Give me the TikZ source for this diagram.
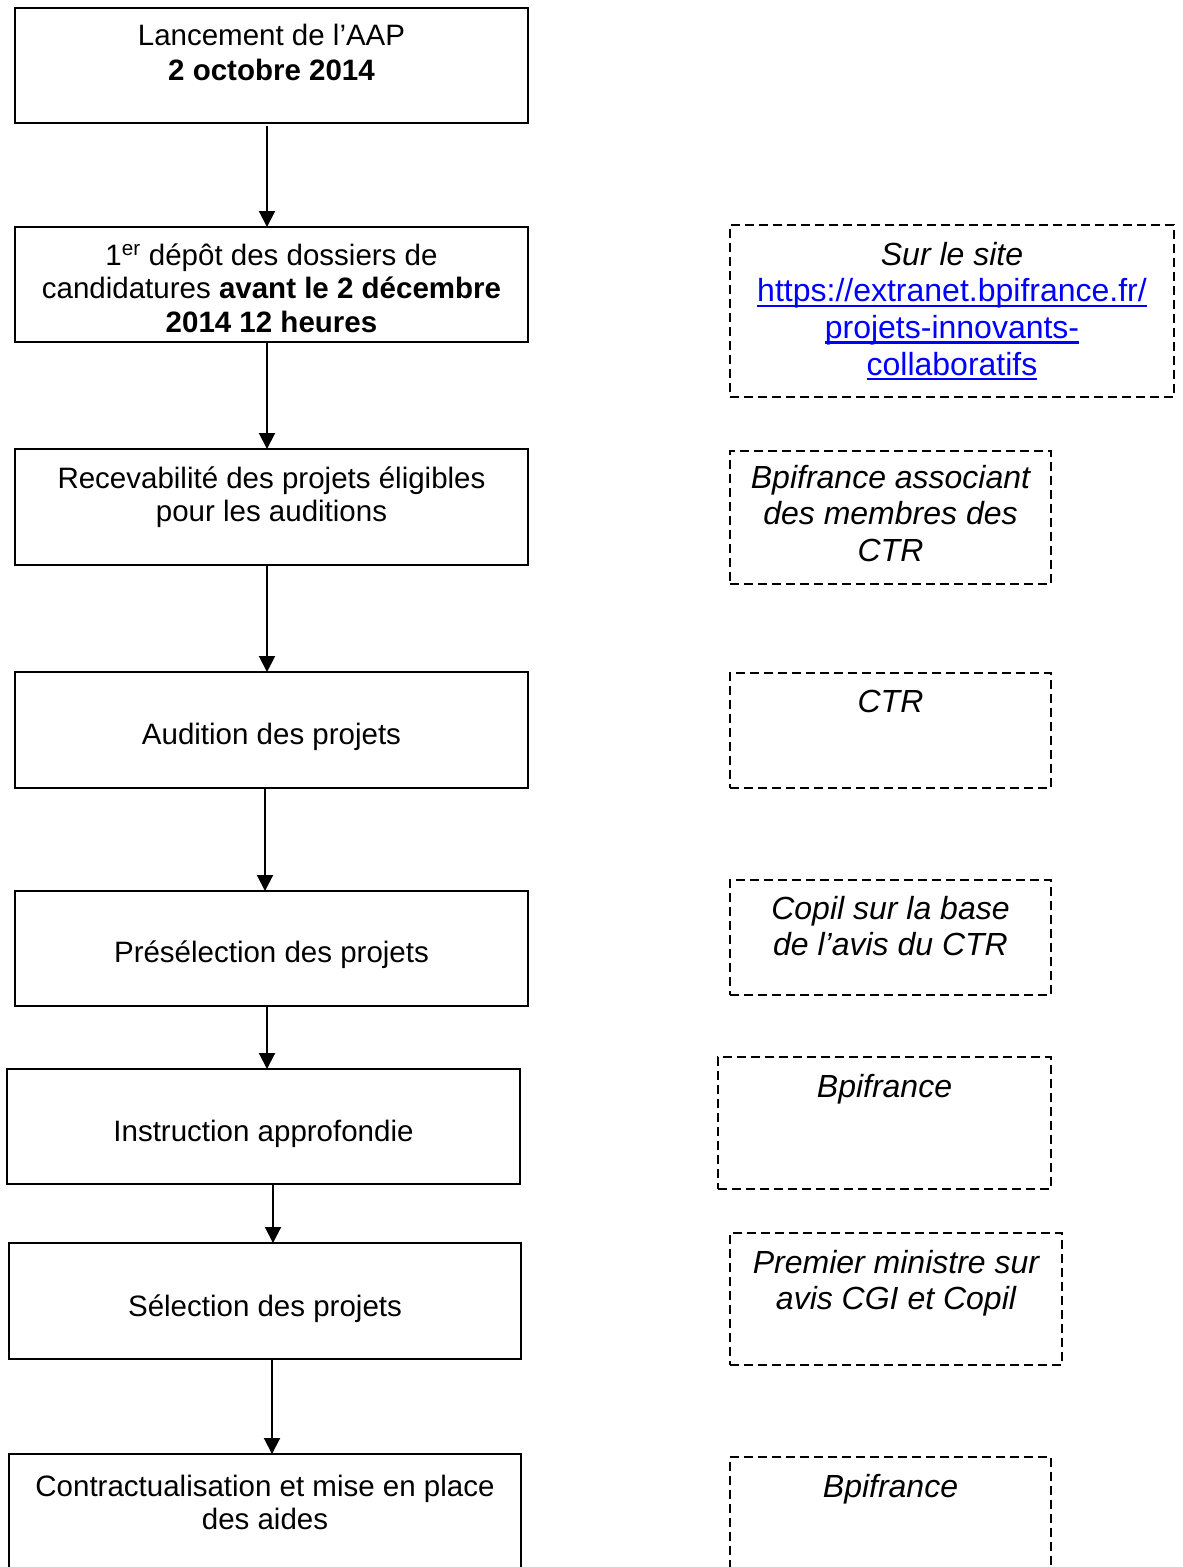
\documentclass[tikz,border=0pt]{standalone}
\usepackage{fontspec}
\setmainfont{Liberation Sans}
\usetikzlibrary{arrows.meta}
\newcommand\lnkline[1]{\setbox0\hbox{#1}\rlap{\rule[-5pt]{\wd0}{2.2pt}}\box0}
\newcommand\lines[1]{\renewcommand\arraystretch{1}\begin{tabular}[t]{@{}c@{}}#1\end{tabular}}
\begin{document}
\begin{tikzpicture}[x=1pt,y=-1pt,
  solidbox/.style={draw, line width=2pt, inner sep=0pt, outer sep=0pt},
  dashbox/.style={draw, line width=2pt, dash pattern=on 9pt off 5pt, inner sep=0pt, outer sep=0pt},
  lefttext/.style={anchor=base, inner sep=0pt, font=\fontsize{29.5}{33.9}\selectfont},
  righttext/.style={anchor=base, inner sep=0pt, font=\fontsize{32}{36.8}\selectfont\itshape},
  arrowline/.style={line width=2pt, -{Triangle[width=16pt,length=16pt]}}]
\useasboundingbox (0,0) rectangle (1183,1567);
\clip (0,0) rectangle (1183,1567);
\fill[white] (0,0) rectangle (1183,1567);

% left column boxes
\node[solidbox, minimum width=513, minimum height=115] (b1) at (271.5,65.5) {};
\node[solidbox, minimum width=513, minimum height=115] (b2) at (271.5,284.5) {};
\node[solidbox, minimum width=513, minimum height=116] (b3) at (271.5,507) {};
\node[solidbox, minimum width=513, minimum height=116] (b4) at (271.5,730) {};
\node[solidbox, minimum width=513, minimum height=115] (b5) at (271.5,948.5) {};
\node[solidbox, minimum width=513, minimum height=115] (b6) at (263.5,1126.5) {};
\node[solidbox, minimum width=512, minimum height=116] (b7) at (265,1301) {};
\node[solidbox, minimum width=512, minimum height=126] (b8) at (265,1517) {};

% left texts
\node[lefttext] (t1) at (271.5,45) {\lines{Lancement de l’AAP\\[1.2pt] \textbf{2 octobre 2014}}};
\node[lefttext] (t2) at (271.5,265) {\lines{1\textsuperscript{er} dépôt des dossiers de\\ candidatures \textbf{avant le 2 décembre}\\ \textbf{2014 12 heures}}};
\node[lefttext] (t3) at (271.5,488) {\lines{Recevabilité des projets éligibles\\ pour les auditions}};
\node[lefttext] (t4) at (271.5,744) {Audition des projets};
\node[lefttext] (t5) at (271.5,962) {Présélection des projets};
\node[lefttext] (t6) at (263.5,1141) {Instruction approfondie};
\node[lefttext] (t7) at (265,1316) {Sélection des projets};
\node[lefttext] (t8) at (265,1496) {\lines{Contractualisation et mise en place\\ des aides}};

% right column boxes
\node[dashbox, minimum width=444, minimum height=172] (rA) at (952,311) {};
\node[dashbox, minimum width=321, minimum height=133] (rB) at (890.5,517.5) {};
\node[dashbox, minimum width=321, minimum height=115] (rC) at (890.5,730.5) {};
\node[dashbox, minimum width=321, minimum height=115] (rD) at (890.5,937.5) {};
\node[dashbox, minimum width=333, minimum height=132] (rE) at (884.5,1123) {};
\node[dashbox, minimum width=332, minimum height=132] (rF) at (896,1299) {};
\node[dashbox, minimum width=321, minimum height=123] (rG) at (890.5,1518.5) {};

% right texts
\node[righttext] (tA) at (952,265) {\lines{Sur le site\\ {\upshape\color{blue}\lnkline{https://extranet.bpifrance.fr/}}\\ {\upshape\color{blue}\lnkline{projets-innovants-}}\\ {\upshape\color{blue}\lnkline{collaboratifs}}}};
\node[righttext] (tB) at (890.5,488) {\lines{Bpifrance associant\\ des membres des\\ CTR}};
\node[righttext] (tC) at (890.5,712) {CTR};
\node[righttext] (tD) at (890.5,919) {\lines{Copil sur la base\\ de l’avis du CTR}};
\node[righttext] (tE) at (884.5,1097) {Bpifrance};
\node[righttext] (tF) at (896,1273) {\lines{Premier ministre sur\\ avis CGI et Copil}};
\node[righttext] (tG) at (890.5,1497) {Bpifrance};

% arrows
\draw[arrowline, shorten <=3pt] (b1.south -| 267,0) -- (b2.north -| 267,0);
\draw[arrowline] (b2.south -| 267,0) -- (b3.north -| 267,0);
\draw[arrowline] (b3.south -| 267,0) -- (b4.north -| 267,0);
\draw[arrowline] (b4.south -| 265,0) -- (b5.north -| 265,0);
\draw[arrowline] (b5.south -| 267,0) -- (b6.north -| 267,0);
\draw[arrowline] (b6.south -| 273,0) -- (b7.north -| 273,0);
\draw[arrowline] (b7.south -| 272,0) -- (b8.north -| 272,0);
\end{tikzpicture}
\end{document}
